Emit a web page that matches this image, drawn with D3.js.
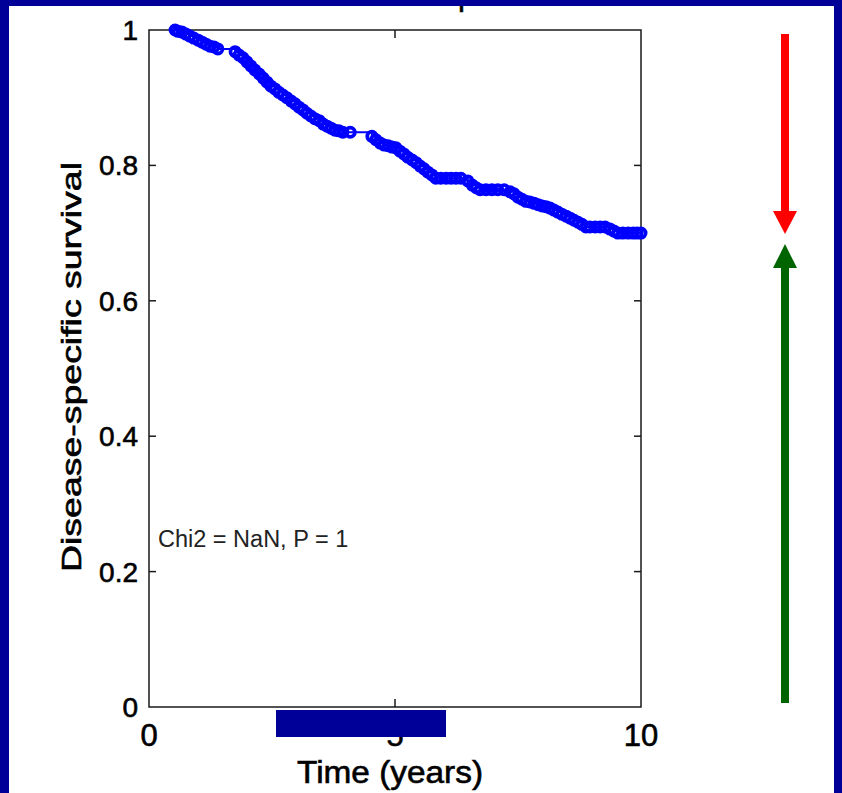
<!DOCTYPE html>
<html lang="en">
<head>
    <meta charset="UTF-8">
    <title>Disease-specific survival</title>
    <script src="https://d3js.org/d3.v7.min.js"></script>
    <style>
        body { margin: 0; background: #000099; }
        svg text { font-family: "Liberation Sans", Arial, Helvetica, sans-serif; }
        .lbl { stroke: black; stroke-width: 0.6px; }
    </style>
</head>
<body>
<svg width="842" height="793"></svg>
<script>
    // Kaplan-Meier curve (time in years, survival fraction)
    const times = [0.53, 0.59, 0.67, 0.75, 0.83, 0.91, 1.00, 1.08, 1.16, 1.24, 1.32, 1.40,
        1.75, 1.83, 1.91, 1.99, 2.07, 2.15, 2.24, 2.32, 2.40, 2.48, 2.56, 2.64, 2.72, 2.80,
        2.89, 2.97, 3.05, 3.13, 3.21, 3.29, 3.37, 3.46, 3.54, 3.62, 3.70, 3.78, 3.86, 3.94, 4.09,
        4.53, 4.61, 4.70, 4.78, 4.86, 4.94, 5.02, 5.10, 5.18, 5.26, 5.35, 5.43, 5.51, 5.59,
        5.67, 5.75, 5.83, 5.93, 6.04, 6.14, 6.24, 6.34,
        6.48, 6.57, 6.65, 6.73, 6.85, 6.97, 7.09, 7.22,
        7.34, 7.42, 7.50, 7.58, 7.66, 7.74, 7.83, 7.91, 7.99, 8.07, 8.15, 8.23, 8.31, 8.39,
        8.48, 8.56, 8.64, 8.72, 8.80, 8.88, 8.96, 9.07, 9.17, 9.27,
        9.37, 9.45, 9.53, 9.63, 9.74, 9.84, 9.92, 10.00];
    const survival = [1.000, 0.998, 0.997, 0.994, 0.991, 0.988, 0.985, 0.982, 0.979, 0.976, 0.975, 0.972,
        0.968, 0.963, 0.959, 0.953, 0.947, 0.941, 0.935, 0.929, 0.923, 0.917, 0.913, 0.908, 0.904, 0.900,
        0.895, 0.891, 0.886, 0.882, 0.877, 0.873, 0.869, 0.866, 0.861, 0.858, 0.855, 0.852, 0.851, 0.849, 0.849,
        0.843, 0.838, 0.833, 0.830, 0.829, 0.827, 0.826, 0.821, 0.817, 0.812, 0.808, 0.804, 0.799, 0.795,
        0.790, 0.786, 0.781, 0.781, 0.781, 0.781, 0.781, 0.781,
        0.777, 0.771, 0.767, 0.764, 0.764, 0.764, 0.764, 0.764,
        0.761, 0.758, 0.753, 0.750, 0.747, 0.746, 0.744, 0.742, 0.740, 0.739, 0.737, 0.734, 0.731, 0.728,
        0.725, 0.722, 0.719, 0.716, 0.713, 0.709, 0.709, 0.709, 0.709, 0.709,
        0.706, 0.703, 0.700, 0.700, 0.700, 0.700, 0.700, 0.700];

    const xTicks = [0, 5, 10];
    const yTicks = [0, 0.2, 0.4, 0.6, 0.8, 1];
    const xTitle = "Time (years)";
    const yTitle = "Disease-specific survival";
    const statText = "Chi2 = NaN, P = 1";
    const arrowLevel = 0.7;

    let svg = d3.select('svg');

    // slide background
    svg.append("rect").attr("x", 0).attr("y", 0).attr("width", 842).attr("height", 793).attr("fill", "#000099");
    svg.append("rect").attr("x", 9).attr("y", 6).attr("width", 825).attr("height", 787).attr("fill", "white");

    // cut-off title: only the descender shows below the top band
    svg.append("text").attr("class", "lbl").attr("x", 458).attr("y", 5).attr("font-size", 31).attr("fill", "black").text("p");
    svg.append("rect").attr("x", 0).attr("y", 0).attr("width", 842).attr("height", 6).attr("fill", "#000099");

    const plotLeft = 149, plotRight = 641, plotTop = 30, plotBottom = 707;
    let xScale = d3.scaleLinear().domain([0, 10]).range([plotLeft, plotRight]);
    let yScale = d3.scaleLinear().domain([0, 1]).range([plotBottom, plotTop]);

    let data = times.map((t, i) => ({t: t, s: survival[i]}));

    // box + inward ticks
    let axes = svg.append("g").attr("stroke", "#1a1a1a").attr("stroke-width", 1.5);
    axes.append("rect").attr("x", plotLeft).attr("y", plotTop)
        .attr("width", plotRight - plotLeft).attr("height", plotBottom - plotTop)
        .attr("fill", "none");
    yTicks.filter(v => v > 0 && v < 1).forEach(v => {
        axes.append("line").attr("x1", plotLeft).attr("x2", plotLeft + 7).attr("y1", yScale(v)).attr("y2", yScale(v));
        axes.append("line").attr("x1", plotRight).attr("x2", plotRight - 7).attr("y1", yScale(v)).attr("y2", yScale(v));
    });
    xTicks.filter(v => v > 0 && v < 10).forEach(v => {
        axes.append("line").attr("x1", xScale(v)).attr("x2", xScale(v)).attr("y1", plotBottom).attr("y2", plotBottom - 8);
        axes.append("line").attr("x1", xScale(v)).attr("x2", xScale(v)).attr("y1", plotTop).attr("y2", plotTop + 8);
    });

    // tick labels
    svg.append("g").selectAll("text").data(yTicks).enter().append("text")
        .attr("class", "lbl")
        .attr("x", 138).attr("y", d => yScale(d) + 10)
        .attr("text-anchor", "end").attr("font-size", 28).attr("fill", "black")
        .text(d => d3.format("~g")(d));
    svg.append("g").selectAll("text").data(xTicks).enter().append("text")
        .attr("class", "lbl")
        .attr("x", d => xScale(d)).attr("y", 746)
        .attr("text-anchor", "middle").attr("font-size", 31).attr("fill", "black")
        .text(d => d);

    // axis titles
    svg.append("text").attr("class", "lbl").attr("x", 390).attr("y", 783).attr("text-anchor", "middle")
        .attr("font-size", 31).attr("fill", "black")
        .attr("textLength", 186).attr("lengthAdjust", "spacingAndGlyphs").text(xTitle);
    svg.append("text").attr("class", "lbl").attr("transform", "translate(81,367) rotate(-90)").attr("text-anchor", "middle")
        .attr("font-size", 28).attr("fill", "black")
        .attr("textLength", 410).attr("lengthAdjust", "spacingAndGlyphs").text(yTitle);

    svg.append("text").attr("x", 158).attr("y", 547).attr("font-size", 23.5).attr("fill", "#222")
        .text(statText);

    // survival curve
    let line = d3.line().x(d => xScale(d.t)).y(d => yScale(d.s)).curve(d3.curveStepAfter);
    svg.append("path").datum(data).attr("d", line)
        .attr("fill", "none").attr("stroke", "#0000ff").attr("stroke-width", 2);
    svg.append("g").selectAll("circle").data(data).enter()
        .append("circle")
        .attr("cx", d => xScale(d.t)).attr("cy", d => yScale(d.s))
        .attr("r", 4.6).attr("fill", "none").attr("stroke", "#0000ff").attr("stroke-width", 3.8);

    // blue box covering the middle x label
    svg.append("rect").attr("x", 276).attr("y", 710).attr("width", 170).attr("height", 27).attr("fill", "#000099");

    // arrows pointing at the final survival level
    const ax = 785;
    svg.append("rect").attr("x", ax - 4).attr("y", yScale(1) + 4).attr("width", 8)
        .attr("height", yScale(arrowLevel) - 22 - (yScale(1) + 4)).attr("fill", "#ff0000");
    svg.append("path")
        .attr("d", `M${ax - 12},${yScale(arrowLevel) - 22}L${ax + 12},${yScale(arrowLevel) - 22}L${ax},${yScale(arrowLevel) + 1}Z`)
        .attr("fill", "#ff0000");
    svg.append("rect").attr("x", ax - 4).attr("y", yScale(arrowLevel) + 34).attr("width", 8)
        .attr("height", yScale(0) - 4 - (yScale(arrowLevel) + 34)).attr("fill", "#006400");
    svg.append("path")
        .attr("d", `M${ax - 12},${yScale(arrowLevel) + 35}L${ax + 12},${yScale(arrowLevel) + 35}L${ax},${yScale(arrowLevel) + 11}Z`)
        .attr("fill", "#006400");
</script>
</body>
</html>
